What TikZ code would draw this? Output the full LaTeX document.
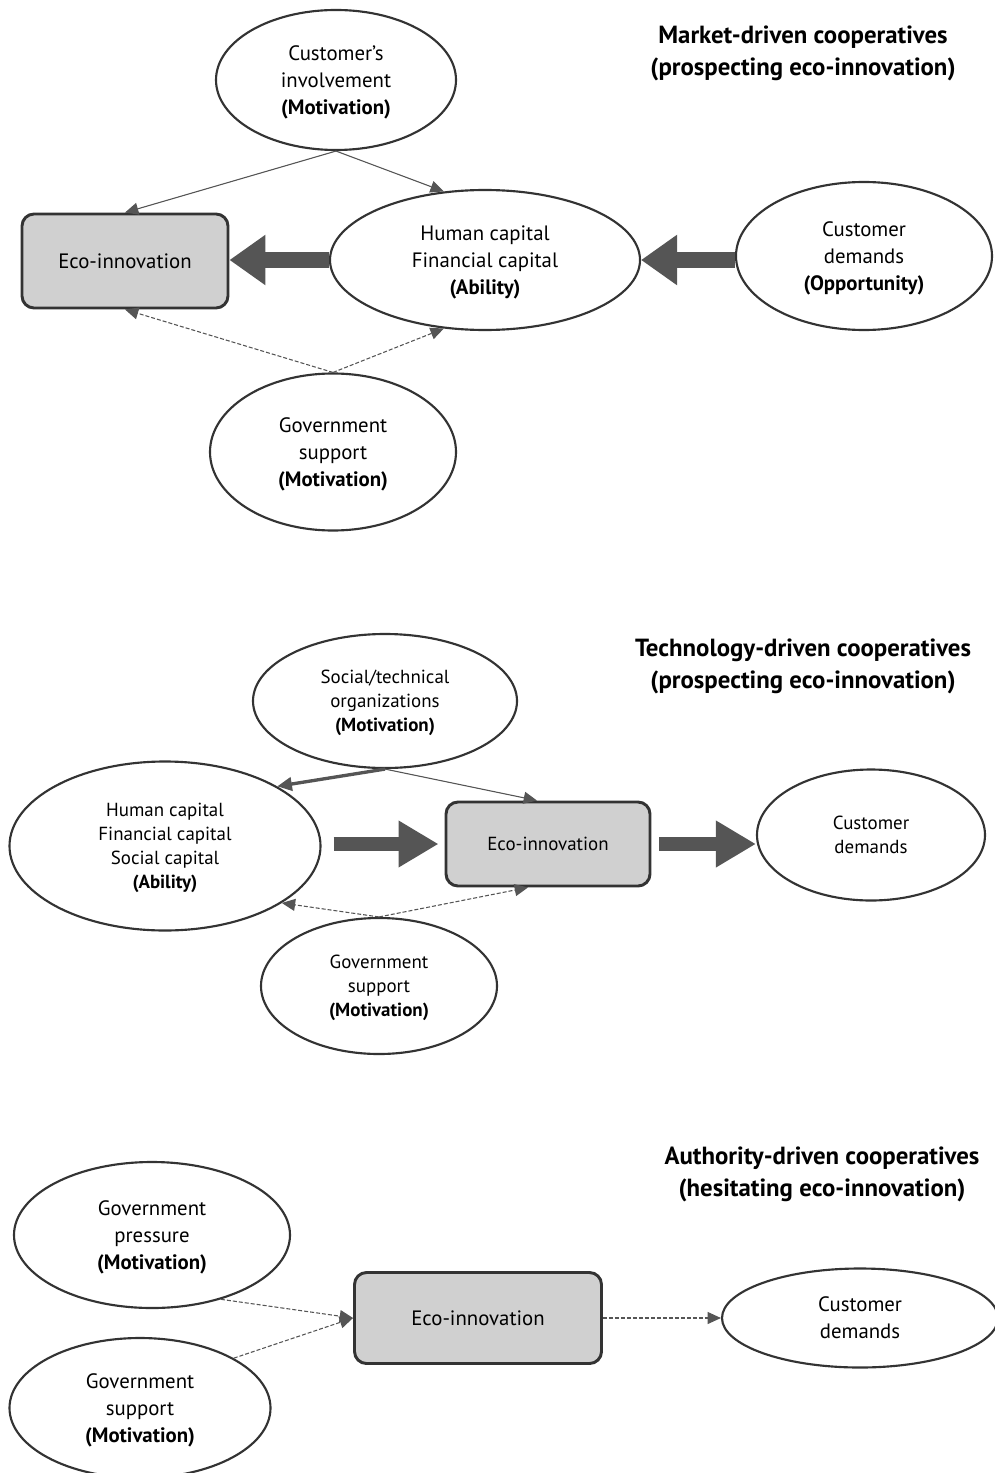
\documentclass[tikz,border=0pt]{standalone}
\usepackage{fontspec}
\setmainfont{PT Sans}
\usetikzlibrary{shapes.geometric,arrows.meta}
\newlength\px \setlength\px{0.75pt}
\definecolor{edge}{HTML}{333333}
\definecolor{arr}{HTML}{555555}
\definecolor{boxfill}{HTML}{D0D0D0}
\tikzset{
  ell/.style={ellipse,draw=edge,line width=1.6pt,fill=white,align=center,inner sep=0pt,text depth=-2.5pt},
  ecobox/.style={rectangle,rounded corners=9pt,draw=edge,line width=2.2pt,fill=boxfill,align=center,inner sep=0pt},
  bigtxt/.style={font=\fontsize{15.6}{20.25}\selectfont},
  midtxt/.style={font=\fontsize{14.2}{18}\selectfont},
  ttl/.style={align=center,font=\fontsize{18.6}{24}\selectfont\bfseries},
  thin/.style={draw=arr,line width=0.8pt,-{Triangle[length=10pt,width=9pt]},fill=arr},
  dsh/.style={draw=arr,line width=0.8pt,dash pattern=on 3pt off 1.5pt,-{Triangle[length=10pt,width=9pt]}},
  fat/.style={draw=arr,line width=12pt,-{Triangle[length=27pt,width=36pt]}},
  fatb/.style={draw=arr,line width=10.5pt,-{Triangle[length=30pt,width=33pt]}},
}
\begin{document}
\begin{tikzpicture}[x=0.75pt,y=-0.75pt]
\useasboundingbox (0,0) rectangle (995,1473);
% ---------------- Section 1 ----------------
\node[ttl] (t1) at (803,53) {Market-driven cooperatives\\(prospecting eco-innovation)};
\node[ell,bigtxt,minimum width=240\px,minimum height=140\px] (ci) at (336,80) {Customer's\\involvement\\\textbf{(Motivation)}};
\node[ecobox,bigtxt,minimum width=206\px,minimum height=94\px] (eco1) at (125,261) {Eco-innovation};
\node[ell,bigtxt,minimum width=310\px,minimum height=140\px] (hc1) at (485,260) {Human capital\\Financial capital\\\textbf{(Ability)}};
\node[ell,bigtxt,minimum width=256\px,minimum height=148\px] (cd1) at (864,256) {Customer\\demands\\\textbf{(Opportunity)}};
\node[ell,bigtxt,minimum width=246\px,minimum height=157\px] (gs1) at (333,452) {Government\\support\\\textbf{(Motivation)}};
\draw[thin] (ci.south) -- (eco1.north);
\draw[thin] (ci.south) -- (hc1.121);
\draw[dsh] (gs1.north) -- (eco1.south);
\draw[dsh] (gs1.north) -- (hc1.239);
\draw[fat] (hc1.west) -- (hc1.west -| eco1.east);
\draw[fat] (cd1.west |- hc1.east) -- (hc1.east);
% ---------------- Section 2 ----------------
\node[ttl] (t2) at (803,666) {Technology-driven cooperatives\\(prospecting eco-innovation)};
\node[ell,midtxt,minimum width=264\px,minimum height=134\px] (so2) at (385,701) {Social/technical\\organizations\\\textbf{(Motivation)}};
\node[ell,midtxt,minimum width=311\px,minimum height=169\px] (hc2) at (165,846) {Human capital\\Financial capital\\Social capital\\\textbf{(Ability)}};
\node[ecobox,midtxt,minimum width=204\px,minimum height=84\px] (eco2) at (548,844) {Eco-innovation};
\node[ell,midtxt,minimum width=228\px,minimum height=131\px] (cd2) at (871,835) {Customer\\demands};
\node[ell,midtxt,minimum width=236\px,minimum height=136\px] (gs2) at (379,986) {Government\\support\\\textbf{(Motivation)}};
\draw[draw=arr,line width=2.5pt,-{Triangle[length=11pt,width=10pt]}] (so2.south) -- (hc2.28);
\draw[thin] (so2.south) -- ([xshift=-11\px]eco2.north);
\draw[dsh] (gs2.north) -- (hc2.-26);
\draw[dsh] (gs2.north) -- ([xshift=-20\px]eco2.south);
\draw[fatb,shorten <=12\px,shorten >=6\px] (hc2.east |- eco2.west) -- (eco2.west);
\draw[fatb,shorten <=8\px] (eco2.east) -- (eco2.east -| cd2.west);
% ---------------- Section 3 ----------------
\node[ttl] (t3) at (822,1174) {Authority-driven cooperatives\\(hesitating eco-innovation)};
\node[ell,bigtxt,minimum width=276\px,minimum height=146\px] (gp3) at (152,1235) {Government\\pressure\\\textbf{(Motivation)}};
\node[ell,bigtxt,minimum width=261\px,minimum height=140\px] (gs3) at (140,1408) {Government\\support\\\textbf{(Motivation)}};
\node[ecobox,bigtxt,minimum width=247\px,minimum height=91\px] (eco3) at (478,1318) {Eco-innovation};
\node[ell,bigtxt,minimum width=276\px,minimum height=99\px] (cd3) at (860,1318) {Customer\\demands};
\draw[dsh] (gp3.-43) -- (eco3.west);
\draw[dsh] (gs3.28) -- (eco3.west);
\draw[dsh] (eco3.east) -- (cd3.west);
\end{tikzpicture}
\end{document}
